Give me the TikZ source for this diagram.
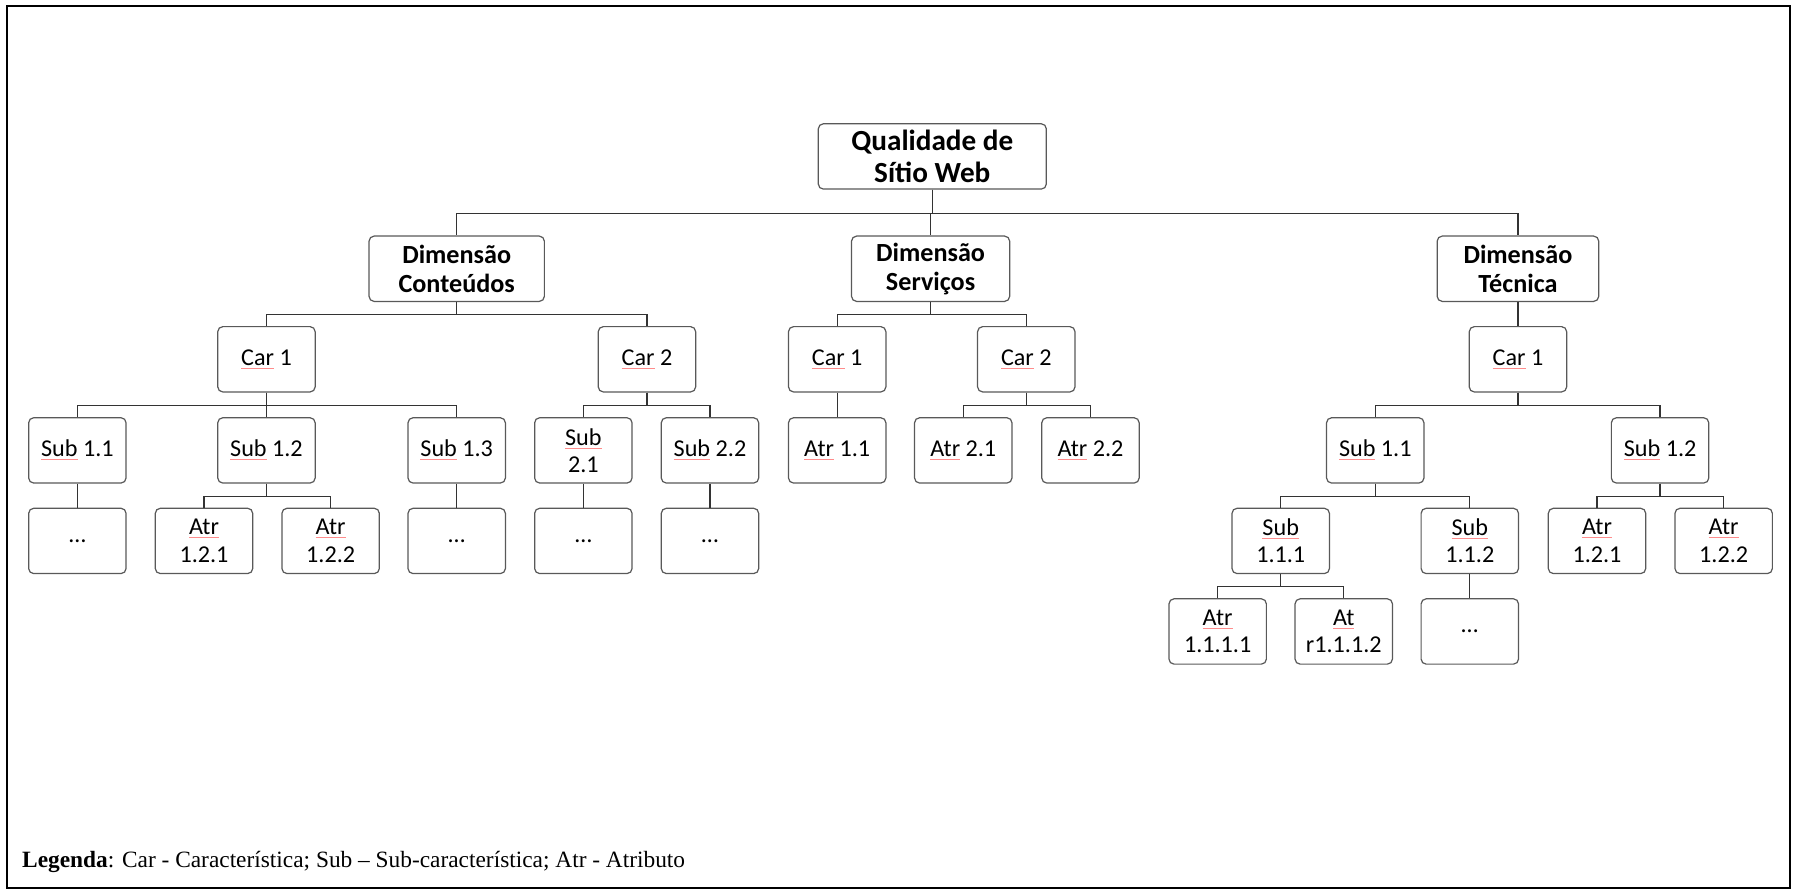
\documentclass[tikz,border=0pt]{standalone}
\usepackage{fontspec}
\setmainfont{Carlito}
\newfontfamily\legendfont{Liberation Serif}
\newcommand{\sq}[1]{{\color{red!45}\underline{\color{black}#1}}}

\begin{document}
\begin{tikzpicture}[x=0.02cm,y=-0.02cm,
  box/.style={draw=black!65,line width=0.6pt,rounded corners=2.5pt,fill=white,align=center,
    minimum width=1.7cm,minimum height=1.14cm,inner sep=1pt,font=\fontsize{12}{13.6}\selectfont},
  dimbox/.style={box,font=\fontsize{13}{14.5}\selectfont\bfseries},
  link/.style={draw=black!80,line width=0.6pt}]
  \useasboundingbox (0,0) rectangle (1568,777);
  \draw[line width=1.1pt] (6,5) rectangle (1562,775);
  \node[dimbox,minimum width=3.98cm,font=\fontsize{14.5}{16}\selectfont\bfseries] (root) at (813.5,136.5) {Qualidade de\\Sítio Web};
  \node[dimbox,minimum width=3.06cm] (dimC) at (398.5,234.5) {Dimensão\\Conteúdos};
  \node[dimbox,minimum width=2.76cm] (dimS) at (812,234.5) {Dimensão\\Serviços};
  \node[dimbox,minimum width=2.82cm] (dimT) at (1324.5,234.5) {Dimensão\\Técnica};
  \node[box] (cC1) at (232.5,313.5) {\sq{Car} 1};
  \node[box] (cC2) at (564.5,313.5) {\sq{Car} 2};
  \node[box] (cS1) at (730.5,313.5) {\sq{Car} 1};
  \node[box] (cS2) at (895.5,313.5) {\sq{Car} 2};
  \node[box] (cT1) at (1324.5,313.5) {\sq{Car} 1};
  \node[box] (sC11) at (67.5,393) {\sq{Sub} 1.1};
  \node[box] (sC12) at (232.5,393) {\sq{Sub} 1.2};
  \node[box] (sC13) at (398.5,393) {\sq{Sub} 1.3};
  \node[box] (sC21) at (509,393) {\sq{Sub}\\2.1};
  \node[box] (sC22) at (619.5,393) {\sq{Sub} 2.2};
  \node[box] (aS11) at (730.5,393) {\sq{Atr} 1.1};
  \node[box] (aS21) at (840.5,393) {\sq{Atr} 2.1};
  \node[box] (aS22) at (951.5,393) {\sq{Atr} 2.2};
  \node[box] (sT11) at (1200,393) {\sq{Sub} 1.1};
  \node[box] (sT12) at (1448.5,393) {\sq{Sub} 1.2};
  \node[box] (xC11) at (67.5,472) {\ldots};
  \node[box] (aC121) at (178,472) {\sq{Atr}\\1.2.1};
  \node[box] (aC122) at (288.5,472) {\sq{Atr}\\1.2.2};
  \node[box] (xC13) at (398.5,472) {\ldots};
  \node[box] (xC21) at (509,472) {\ldots};
  \node[box] (xC22) at (619.5,472) {\ldots};
  \node[box] (sT111) at (1117.5,472) {\sq{Sub}\\1.1.1};
  \node[box] (sT112) at (1282.5,472) {\sq{Sub}\\1.1.2};
  \node[box] (aT121) at (1393.5,472) {\sq{Atr}\\1.2.1};
  \node[box] (aT122) at (1504,472) {\sq{Atr}\\1.2.2};
  \node[box] (aT1111) at (1062.5,551) {\sq{Atr}\\1.1.1.1};
  \node[box] (aT1112) at (1172.5,551) {\sq{At}\\r1.1.1.2};
  \node[box] (xT112) at (1282.5,551) {\ldots};
  \foreach \c in {dimC,dimS,dimT}
    \draw[link] (root.south) -- ++(0,21) -| (\c.north);
  \foreach \p/\c in {dimC/cC1,dimC/cC2,dimS/cS1,dimS/cS2,dimT/cT1,
      cC1/sC11,cC1/sC12,cC1/sC13,cC2/sC21,cC2/sC22,cS1/aS11,cS2/aS21,cS2/aS22,cT1/sT11,cT1/sT12,
      sC11/xC11,sC12/aC121,sC12/aC122,sC13/xC13,sC21/xC21,sC22/xC22,
      sT11/sT111,sT11/sT112,sT12/aT121,sT12/aT122,sT111/aT1111,sT111/aT1112,sT112/xT112}
    \draw[link] (\p.south) -- ++(0,11) -| (\c.north);
  \node[anchor=base west,inner sep=0pt,font=\legendfont\fontsize{11.6}{13}\selectfont] (legend) at (19,757)
    {\textbf{Legenda}: Car - Característica; Sub – Sub-característica; Atr - Atributo};
\end{tikzpicture}
\end{document}
